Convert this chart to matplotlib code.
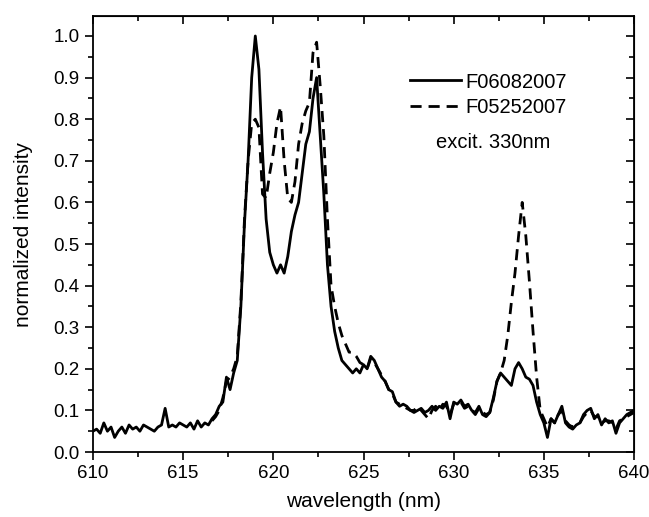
import numpy as np
import matplotlib
matplotlib.use('Agg')
import matplotlib.pyplot as plt
from matplotlib.ticker import MultipleLocator, FormatStrFormatter

plt.rcParams['font.family'] = ['Liberation Sans', 'DejaVu Sans']

# sample grid, 0.2 nm step, one row per nm
wavelength = np.round(np.arange(610.0, 640.01, 0.2), 1)

f06082007 = [
    0.050, 0.055, 0.045, 0.070, 0.050,  # 610
    0.060, 0.035, 0.050, 0.060, 0.045,  # 611
    0.065, 0.055, 0.060, 0.050, 0.065,  # 612
    0.060, 0.055, 0.050, 0.060, 0.065,  # 613
    0.105, 0.060, 0.065, 0.060, 0.070,  # 614
    0.065, 0.060, 0.070, 0.055, 0.075,  # 615
    0.060, 0.070, 0.065, 0.080, 0.090,  # 616
    0.110, 0.120, 0.180, 0.150, 0.190,  # 617
    0.220, 0.350, 0.550, 0.700, 0.900,  # 618
    1.000, 0.920, 0.720, 0.560, 0.480,  # 619
    0.450, 0.430, 0.450, 0.430, 0.470,  # 620
    0.530, 0.570, 0.600, 0.670, 0.740,  # 621
    0.770, 0.850, 0.900, 0.760, 0.620,  # 622
    0.450, 0.350, 0.290, 0.250, 0.220,  # 623
    0.210, 0.200, 0.190, 0.200, 0.190,  # 624
    0.210, 0.200, 0.230, 0.220, 0.200,  # 625
    0.180, 0.170, 0.150, 0.145, 0.120,  # 626
    0.110, 0.115, 0.110, 0.100, 0.095,  # 627
    0.100, 0.105, 0.095, 0.100, 0.110,  # 628
    0.100, 0.110, 0.105, 0.120, 0.080,  # 629
    0.120, 0.115, 0.125, 0.110, 0.115,  # 630
    0.100, 0.095, 0.110, 0.090, 0.085,  # 631
    0.095, 0.130, 0.170, 0.190, 0.180,  # 632
    0.170, 0.160, 0.200, 0.215, 0.200,  # 633
    0.180, 0.175, 0.160, 0.120, 0.090,  # 634
    0.070, 0.035, 0.080, 0.070, 0.090,  # 635
    0.110, 0.070, 0.060, 0.055, 0.065,  # 636
    0.070, 0.090, 0.100, 0.105, 0.080,  # 637
    0.090, 0.065, 0.080, 0.070, 0.075,  # 638
    0.045, 0.070, 0.080, 0.090, 0.095,  # 639
    0.100,                              # 640
]

nan = np.nan
f05252007 = [
    nan, nan, nan, nan, nan,            # 610
    nan, nan, nan, nan, nan,            # 611
    nan, nan, nan, nan, nan,            # 612
    nan, nan, nan, nan, nan,            # 613
    nan, nan, nan, nan, nan,            # 614
    nan, nan, nan, nan, nan,            # 615
    nan, nan, nan, 0.075, 0.085,        # 616
    0.100, 0.130, 0.170, 0.180, 0.200,  # 617
    0.230, 0.360, 0.560, 0.700, 0.790,  # 618
    0.800, 0.780, 0.620, 0.610, 0.670,  # 619
    0.720, 0.790, 0.830, 0.700, 0.610,  # 620
    0.600, 0.650, 0.740, 0.790, 0.820,  # 621
    0.840, 0.960, 0.985, 0.880, 0.760,  # 622
    0.560, 0.400, 0.350, 0.310, 0.280,  # 623
    0.260, 0.240, 0.240, 0.230, 0.215,  # 624
    0.210, 0.200, 0.225, 0.215, 0.200,  # 625
    0.185, 0.170, 0.150, 0.140, 0.120,  # 626
    0.115, 0.110, 0.105, 0.100, 0.100,  # 627
    0.110, 0.100, 0.090, 0.080, 0.100,  # 628
    0.110, 0.100, 0.115, 0.110, 0.090,  # 629
    0.115, 0.120, 0.120, 0.105, 0.110,  # 630
    0.100, 0.090, 0.105, 0.095, 0.090,  # 631
    0.095, 0.125, 0.170, 0.190, 0.220,  # 632
    0.280, 0.360, 0.430, 0.520, 0.600,  # 633
    0.520, 0.410, 0.290, 0.180, 0.100,  # 634
    0.080, 0.060, 0.080, 0.070, 0.090,  # 635
    0.100, 0.075, 0.065, 0.060, 0.065,  # 636
    0.070, 0.085, 0.095, 0.100, 0.085,  # 637
    0.085, 0.070, 0.075, 0.075, 0.070,  # 638
    0.055, 0.075, 0.080, 0.085, 0.090,  # 639
    0.095,                              # 640
]

fig = plt.figure(figsize=(6.49, 5.17), dpi=100)
ax = fig.add_axes([0.1433, 0.1257, 0.8336, 0.8433])

ax.plot(wavelength, f06082007, color='black', lw=2.0, label='F06082007')
ax.plot(wavelength, f05252007, color='black', lw=2.0, dashes=(4, 2.5),
        label='F05252007')

ax.set_xlim(610, 640)
ax.set_ylim(0, 1.048)
ax.xaxis.set_major_locator(MultipleLocator(5))
ax.xaxis.set_minor_locator(MultipleLocator(2.5))
ax.yaxis.set_major_locator(MultipleLocator(0.1))
ax.yaxis.set_minor_locator(MultipleLocator(0.05))
ax.yaxis.set_major_formatter(FormatStrFormatter('%.1f'))

ax.tick_params(which='both', direction='out', top=False, right=False,
               labelsize=13.5, width=1.2)
ax.tick_params(which='major', length=6)
ax.tick_params(which='minor', length=3.5)

# inward ticks on top and right frame
top = ax.secondary_xaxis('top')
top.xaxis.set_major_locator(MultipleLocator(5))
top.xaxis.set_minor_locator(MultipleLocator(2.5))
top.tick_params(which='both', direction='in', labeltop=False, width=1.2)
top.tick_params(which='major', length=6)
top.tick_params(which='minor', length=3.5)
right = ax.secondary_yaxis('right')
right.yaxis.set_major_locator(MultipleLocator(0.1))
right.yaxis.set_minor_locator(MultipleLocator(0.05))
right.tick_params(which='both', direction='in', labelright=False, width=1.2)
right.tick_params(which='major', length=6)
right.tick_params(which='minor', length=3.5)

for sp in ax.spines.values():
    sp.set_linewidth(1.3)

ax.set_xlabel('wavelength (nm)', fontsize=15, labelpad=7)
ax.set_ylabel('normalized intensity', fontsize=15, labelpad=15)

ax.legend(loc='upper left', bbox_to_anchor=(0.553, 0.912), frameon=False,
          fontsize=14.5, handlelength=2.5, handletextpad=0.25,
          labelspacing=0.3, borderpad=0.4)
ax.text(0.739, 0.711, 'excit. 330nm', transform=ax.transAxes,
        ha='center', va='center', fontsize=14.5)

fig.savefig('out.png', dpi=100)
